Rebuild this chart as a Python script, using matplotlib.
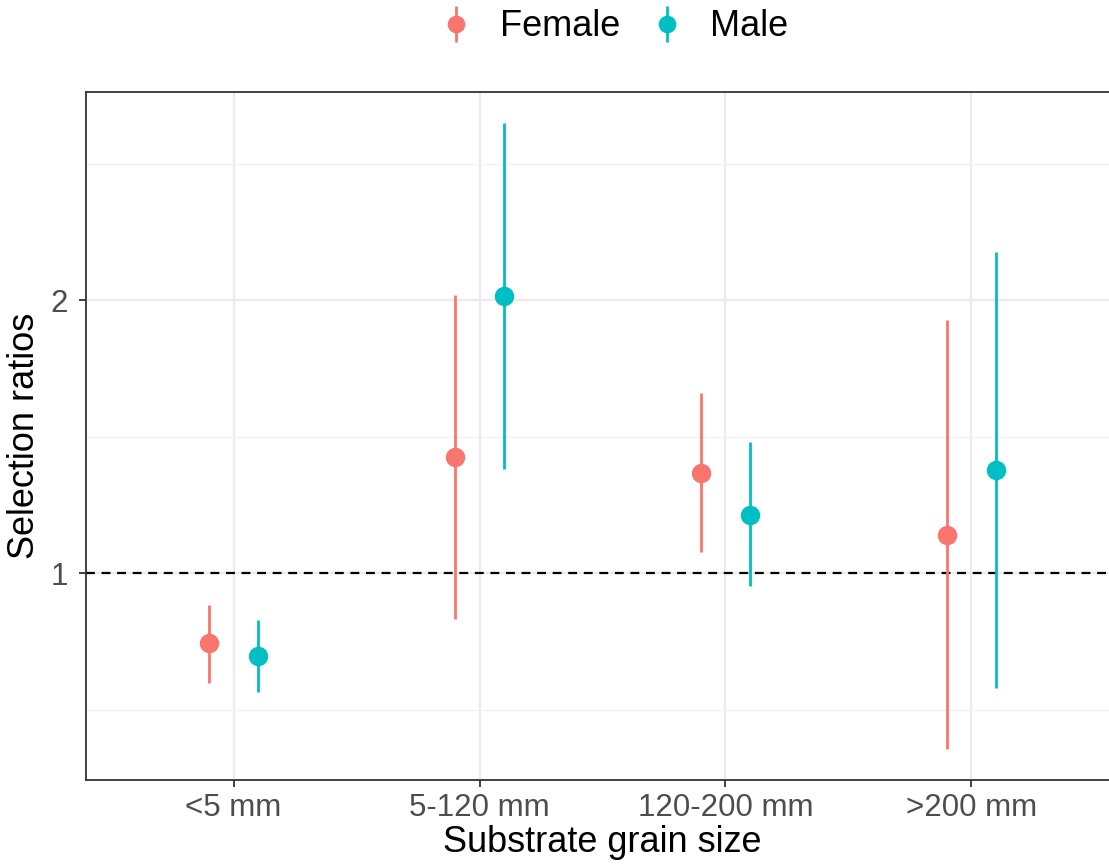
import numpy as np
import matplotlib.pyplot as plt
from matplotlib.ticker import FixedLocator

plt.rcParams['font.family'] = ['Liberation Sans', 'DejaVu Sans']

categories = ["<5 mm", "5-120 mm", "120-200 mm", ">200 mm"]
groups = ["Female", "Male"]
colors = ["#F8766D", "#00BFC4"]

# point estimates and interval bounds
female_mid = [0.744, 1.425, 1.366, 1.139]
female_lo = [0.597, 0.832, 1.077, 0.355]
female_hi = [0.883, 2.018, 1.659, 1.927]

male_mid = [0.696, 2.015, 1.212, 1.377]
male_lo = [0.564, 1.381, 0.952, 0.579]
male_hi = [0.828, 2.648, 1.480, 2.176]

mids = [female_mid, male_mid]
los = [female_lo, male_lo]
his = [female_hi, male_hi]
offsets = [-0.1, 0.1]

fig = plt.figure(figsize=(11.09, 8.66), dpi=100)
ax = fig.add_axes([86/1109, 86/866, 1033/1109, 688/866])

x = np.arange(len(categories))
handles = []
for g in range(2):
    m = np.array(mids[g])
    lo = np.array(los[g])
    hi = np.array(his[g])
    h = ax.errorbar(x + offsets[g], m, yerr=[m - lo, hi - m], fmt='o',
                    color=colors[g], ecolor=colors[g], elinewidth=2.0,
                    markersize=13, capsize=0, zorder=3, label=groups[g])
    handles.append(h)

ax.axhline(1, color='black', linestyle=(0, (4, 3)), linewidth=1.6, zorder=2)

ax.set_xlim(-0.6, 3.6)
ax.set_ylim(0.242, 2.762)
ax.set_xticks(x)
ax.set_xticklabels(categories)
ax.set_yticks([1, 2])
ax.set_yticklabels(["1", "2"])
ax.yaxis.set_minor_locator(FixedLocator([0.5, 1.5, 2.5]))
ax.tick_params(which='minor', length=0)

ax.grid(True, which='major', color='#EBEBEB', linewidth=1.6, zorder=0)
ax.grid(True, which='minor', axis='y', color='#F2F2F2', linewidth=1.0, zorder=0)
ax.set_axisbelow(True)

for s in ax.spines.values():
    s.set_color('#333333')
    s.set_linewidth(1.3)

ax.tick_params(which='major', length=5, width=1.3, color='#333333',
               labelsize=22.5, labelcolor='#4D4D4D', pad=4)
ax.tick_params(axis='y', pad=8)

ax.set_xlabel("Substrate grain size", fontsize=26, labelpad=2)
ax.set_ylabel("Selection ratios", fontsize=26, labelpad=6)

fig.legend(handles=handles, labels=groups, loc='center', ncol=2,
           bbox_to_anchor=(0.553, 0.969), frameon=False, fontsize=26,
           handlelength=1.0, handletextpad=0.7, columnspacing=0.8,
           markerscale=0.9)

plt.savefig('out.png', dpi=100)
